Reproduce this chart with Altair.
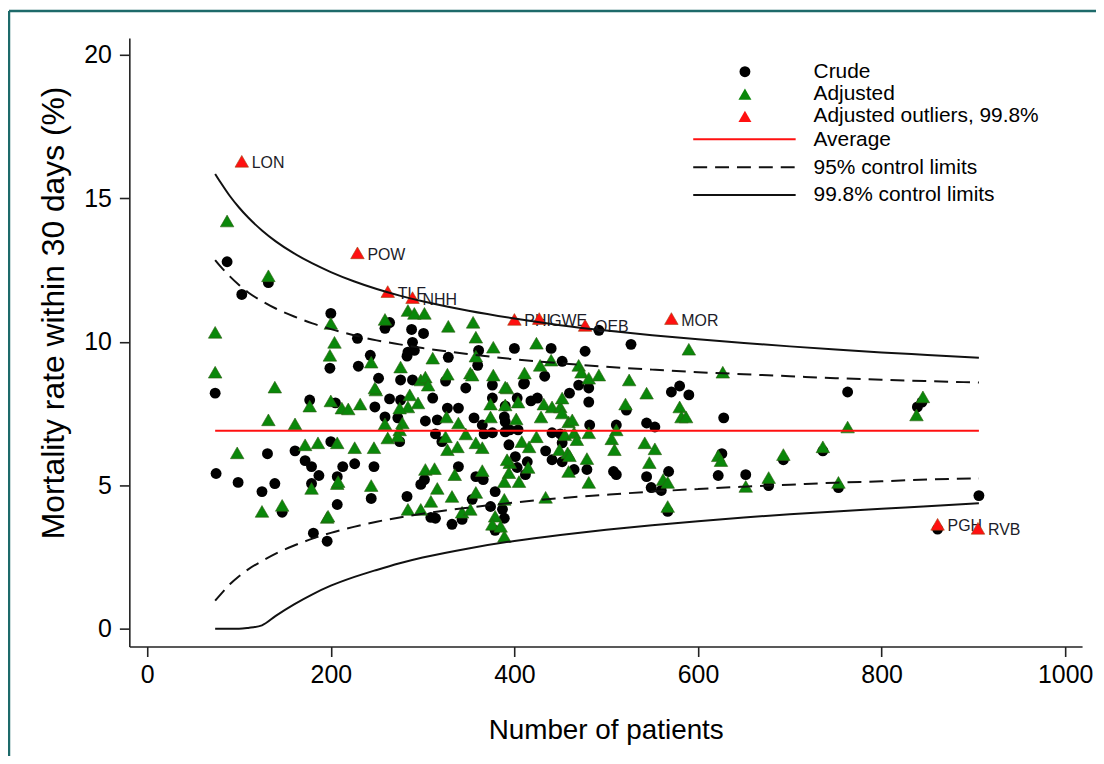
import altair as alt
import pandas as pd

FONT = "Liberation Sans"

# ---- data ----
crude_n = [74, 75, 87, 103, 132, 131, 99, 125, 139, 147, 177, 161, 172, 179, 187, 179, 181, 196, 207, 207,
           213, 226, 200, 247, 244, 205, 248, 200, 229, 199, 243, 230, 264, 259, 288, 301, 289, 284, 291, 283,
           328, 347, 325, 252, 276, 289, 311, 264, 276, 259, 273, 303, 316, 275, 314, 321, 283, 302, 298, 309,
           314, 400, 440, 360, 433, 452, 376, 410, 376, 418, 425, 327, 339, 356, 365, 389, 390, 395, 404, 441,
           450, 367, 376, 394, 434, 441, 452, 339, 358, 366, 401, 414, 379, 354, 387, 389, 343, 332, 379, 492,
           527, 477, 571, 580, 590, 522, 628, 481, 481, 460, 470, 511, 544, 553, 508, 568, 544, 549, 560, 622,
           479, 482, 567, 626, 652, 677, 693, 511, 411, 390, 403, 412, 374, 763, 839, 844, 736, 753, 906, 861,
           361, 403, 452, 465, 390]
crude_rate = [8.21, 5.41, 12.79, 11.65, 12.06, 6.10, 5.10, 4.78, 5.06, 4.06, 7.97, 6.20, 5.86, 5.65, 5.34, 5.06, 3.33, 3.05, 4.33, 5.30,
              5.65, 5.75, 6.52, 5.65, 4.54, 7.87, 7.73, 10.99, 10.12, 9.08, 9.53, 9.15, 10.67, 10.47, 10.43, 10.29, 9.98, 9.64, 9.70, 9.50,
              9.46, 8.39, 8.63, 8.73, 8.67, 8.67, 8.04, 8.01, 7.97, 7.38, 7.35, 7.24, 7.28, 6.52, 6.79, 6.52, 4.61, 5.20, 5.03, 3.88,
              3.85, 9.77, 9.77, 9.18, 8.80, 9.32, 8.49, 8.53, 8.04, 7.94, 8.04, 7.69, 7.69, 7.35, 7.10, 7.38, 7.21, 6.93, 6.93, 6.83,
              6.79, 6.79, 6.83, 6.41, 6.20, 5.89, 5.82, 5.65, 5.30, 5.20, 6.00, 5.82, 4.78, 4.51, 4.16, 3.85, 3.81, 3.64, 3.43, 10.40,
              9.91, 9.67, 8.25, 8.46, 8.15, 7.62, 7.35, 7.90, 8.39, 8.21, 8.49, 7.10, 7.17, 7.03, 5.48, 5.48, 5.30, 4.92, 4.82, 5.34,
              5.55, 7.10, 4.09, 6.10, 5.37, 4.99, 5.89, 5.37, 8.56, 6.86, 5.62, 5.37, 4.26, 8.25, 7.73, 7.90, 6.20, 4.92, 4.64, 3.47,
              9.70, 8.04, 6.48, 5.55, 7.76]

adjusted_n = [98, 125, 147, 139, 132, 161, 177, 172, 186, 179, 196, 207, 207, 226, 247, 244, 200, 212, 219, 232,
              249, 87, 132, 74, 74, 200, 204, 199, 244, 259, 284, 291, 302, 276, 311, 328, 355, 358, 327, 248,
              298, 303, 306, 352, 286, 295, 284, 275, 259, 278, 275, 262, 273, 208, 303, 313, 316, 197, 284, 298,
              309, 377, 424, 358, 354, 377, 411, 428, 440, 392, 374, 390, 404, 432, 441, 450, 452, 326, 339, 374,
              402, 429, 459, 455, 347, 325, 327, 338, 365, 358, 408, 424, 449, 458, 335, 365, 395, 415, 405, 394,
              389, 332, 358, 389, 434, 379, 376, 389, 343, 352, 590, 470, 473, 481, 492, 525, 627, 544, 580, 582,
              521, 511, 506, 509, 542, 553, 547, 562, 567, 622, 625, 481, 479, 481, 587, 567, 652, 677, 693, 390,
              452, 463, 465, 468, 416, 392, 460, 459, 385, 763, 845, 838, 736, 753]
adjusted_rate = [6.13, 4.09, 4.30, 8.42, 7.28, 7.14, 7.76, 6.41, 6.48, 4.89, 3.88, 5.06, 6.48, 6.31, 6.31, 4.99, 7.94, 7.69, 7.66, 7.83,
                 8.32, 14.21, 12.30, 10.33, 8.94, 10.64, 9.98, 9.53, 9.29, 10.78, 11.09, 10.99, 10.99, 9.12, 9.43, 10.54, 10.68, 10.16, 8.87, 8.39,
                 8.67, 8.77, 8.49, 8.91, 8.15, 7.87, 7.73, 7.69, 7.14, 7.17, 6.93, 6.65, 6.72, 5.13, 5.55, 5.58, 4.89, 3.92, 4.16, 4.16,
                 4.44, 9.81, 9.95, 9.50, 8.84, 8.84, 8.91, 9.18, 9.36, 8.39, 7.83, 7.80, 7.90, 7.83, 7.73, 7.73, 8.04, 7.38, 7.17, 7.38,
                 7.31, 7.38, 7.21, 6.76, 6.79, 6.69, 6.24, 6.34, 6.31, 6.48, 6.52, 6.69, 6.24, 6.13, 5.37, 5.51, 5.79, 5.62, 5.13, 5.44,
                 5.13, 4.61, 4.75, 4.51, 4.58, 3.92, 3.64, 3.22, 4.06, 4.16, 9.74, 9.18, 8.94, 8.73, 8.84, 8.67, 8.94, 8.21, 7.73, 7.38,
                 7.83, 6.93, 6.62, 6.24, 6.48, 6.27, 5.79, 5.20, 5.10, 6.03, 5.86, 5.10, 5.93, 6.83, 7.38, 4.26, 4.96, 5.27, 6.07, 8.42,
                 7.52, 7.28, 6.83, 6.59, 6.34, 5.89, 6.03, 5.48, 3.57, 7.03, 8.08, 7.45, 6.34, 5.10]

outlier_code = ["LON", "POW", "TLF", "NHH", "PHI", "GWE", "OEB", "MOR", "PGH", "RVB"]
outlier_n = [103, 229, 262, 289, 400, 427, 477, 571, 861, 905]
outlier_rate = [16.29, 13.10, 11.75, 11.54, 10.78, 10.81, 10.57, 10.81, 3.64, 3.50]

average_n = [74, 906]
average_rate = [6.9, 6.9]

limit_n = [74, 80, 90, 100, 110, 125, 140, 160, 180, 200, 225, 250, 275, 300, 350, 400, 450, 500, 550,
           600, 650, 700, 750, 800, 850, 906]
upper_95 = [12.85, 12.62, 12.28, 11.98, 11.72, 11.42, 11.16, 10.88, 10.64, 10.44, 10.23, 10.05, 9.91, 9.78,
            9.57, 9.39, 9.25, 9.13, 9.03, 8.94, 8.87, 8.80, 8.73, 8.68, 8.63, 8.58]
lower_95 = [0.98, 1.20, 1.55, 1.83, 2.07, 2.36, 2.62, 2.90, 3.14, 3.34, 3.55, 3.73, 3.88, 4.01, 4.22, 4.40,
            4.55, 4.67, 4.78, 4.87, 4.95, 5.02, 5.09, 5.14, 5.20, 5.24]
upper_998 = [15.85, 15.55, 15.08, 14.68, 14.33, 13.88, 13.50, 13.08, 12.73, 12.43, 12.11, 11.84, 11.61, 11.41,
             11.08, 10.81, 10.58, 10.39, 10.23, 10.09, 9.96, 9.84, 9.73, 9.63, 9.54, 9.44]
lower_998 = [0.0, 0.0, 0.0, 0.0, 0.03, 0.12, 0.45, 0.85, 1.20, 1.50, 1.80, 2.05, 2.28, 2.48, 2.80, 3.06,
             3.27, 3.45, 3.61, 3.75, 3.88, 3.99, 4.09, 4.18, 4.27, 4.37]

legend_labels = ["Crude", "Adjusted", "Adjusted outliers, 99.8%", "Average",
                 "95% control limits", "99.8% control limits"]

# ---- tables ----
crude_df = pd.DataFrame({"n": crude_n, "rate": crude_rate})
adj_df = pd.DataFrame({"n": adjusted_n, "rate": adjusted_rate})
out_df = pd.DataFrame({"n": outlier_n, "rate": outlier_rate, "code": outlier_code})
avg_df = pd.DataFrame({"n": average_n, "rate": average_rate})
lim95_df = pd.concat([
    pd.DataFrame({"n": limit_n, "rate": upper_95, "band": "upper"}),
    pd.DataFrame({"n": limit_n, "rate": lower_95, "band": "lower"}),
])
lim998_df = pd.concat([
    pd.DataFrame({"n": limit_n, "rate": upper_998, "band": "upper"}),
    pd.DataFrame({"n": limit_n, "rate": lower_998, "band": "lower"}),
])

xs = alt.Scale(domain=[-19.5, 1018.4], nice=False, zero=False)
ys = alt.Scale(domain=[-0.62, 20.59], nice=False, zero=False)
XT = "Number of patients"
YT = "Mortality rate within 30 days (%)"


def X():
    return alt.X("n:Q", scale=xs, title=XT,
                 axis=alt.Axis(values=[0, 200, 400, 600, 800, 1000], format="d"))


def Y():
    return alt.Y("rate:Q", scale=ys, title=YT,
                 axis=alt.Axis(values=[0, 5, 10, 15, 20], format="d"))


GREEN = "#0a870a"
RED = "#ff1010"

crude = alt.Chart(crude_df).mark_circle(color="black", size=120, opacity=1).encode(x=X(), y=Y())
adjusted = alt.Chart(adj_df).mark_point(shape="triangle-up", filled=True, color=GREEN, size=185,
                                        opacity=1, stroke="#2d5e12", strokeWidth=0.6).encode(x=X(), y=Y())
labels = alt.Chart(out_df).mark_text(align="left", baseline="middle", dx=10, dy=2, fontSize=16,
                                     font=FONT, color="#1c1c28").encode(x=X(), y=Y(), text="code:N")
outliers = alt.Chart(out_df).mark_point(shape="triangle-up", filled=True, color=RED, size=185,
                                        opacity=1, stroke="#a04010", strokeWidth=0.6).encode(x=X(), y=Y())
avg_line = alt.Chart(avg_df).mark_line(color=RED, strokeWidth=2).encode(x=X(), y=Y())
dash_lines = alt.Chart(lim95_df).mark_line(color="#111", strokeWidth=2, strokeDash=[14, 8],
                                           interpolate="monotone").encode(x=X(), y=Y(), detail="band:N")
solid_lines = alt.Chart(lim998_df).mark_line(color="#111", strokeWidth=2,
                                             interpolate="monotone").encode(x=X(), y=Y(), detail="band:N")

# ---- manual legend (inside the plot, top right) ----
row_y = [34, 56.5, 79, 102.5, 130.5, 158.5]
sym_x, txt_x, line_x0, line_x1 = 619, 688, 567, 670
leg = []
for lab, yy in zip(legend_labels, row_y):
    d = pd.DataFrame({"label": [lab]})
    leg.append(alt.Chart(d).mark_text(align="left", baseline="middle", fontSize=21, font=FONT,
                                      color="black").encode(x=alt.value(txt_x), y=alt.value(yy), text="label:N"))
d0 = pd.DataFrame({"label": [legend_labels[0]]})
leg.append(alt.Chart(d0).mark_circle(color="black", size=120, opacity=1).encode(
    x=alt.value(sym_x), y=alt.value(row_y[0])))
leg.append(alt.Chart(d0).mark_point(shape="triangle-up", filled=True, color=GREEN, size=170, opacity=1).encode(
    x=alt.value(sym_x), y=alt.value(row_y[1])))
leg.append(alt.Chart(d0).mark_point(shape="triangle-up", filled=True, color=RED, size=170, opacity=1).encode(
    x=alt.value(sym_x), y=alt.value(row_y[2])))
leg.append(alt.Chart(d0).mark_rule(color=RED, strokeWidth=2).encode(
    x=alt.value(line_x0), x2=alt.value(line_x1), y=alt.value(row_y[3] - 0.5)))
leg.append(alt.Chart(d0).mark_rule(color="#111", strokeWidth=2, strokeDash=[14, 8]).encode(
    x=alt.value(line_x0), x2=alt.value(line_x1), y=alt.value(row_y[4] - 0.5)))
leg.append(alt.Chart(d0).mark_rule(color="#111", strokeWidth=2).encode(
    x=alt.value(line_x0), x2=alt.value(line_x1), y=alt.value(row_y[5] - 0.5)))

# ---- page frame ----
frame = [
    alt.Chart(d0).mark_rule(color="#1d6a6a", strokeWidth=2.5).encode(
        x=alt.value(-121), x2=alt.value(1110), y=alt.value(-27)),
    alt.Chart(d0).mark_rule(color="#1d6a6a", strokeWidth=2.5).encode(
        x=alt.value(-121), y=alt.value(-27), y2=alt.value(740)),
]

chart = alt.layer(
    crude, adjusted, labels, outliers, avg_line, dash_lines, solid_lines, *leg, *frame
).properties(
    width=958, height=612,
    autosize=alt.AutoSizeParams(type="none"),
    padding={"left": 122, "top": 28, "right": 14, "bottom": 108},
).configure_view(stroke=None).configure_axis(
    grid=False, domainColor="#222", domainWidth=1.6, tickColor="#222", tickWidth=1.6, tickSize=10,
    labelFont=FONT, labelFontSize=25, labelColor="black", titleFont=FONT, titleColor="black",
    titleFontWeight="normal",
).configure_axisX(
    labelPadding=6, titleFontSize=28, titlePadding=29,
).configure_axisY(
    labelPadding=8, titleFontSize=32, titleX=-76, titleY=276, titleAngle=270,
    titleAlign="center", titleBaseline="middle",
)

chart.save("out.html", embed_options={"renderer": "svg", "actions": False})
